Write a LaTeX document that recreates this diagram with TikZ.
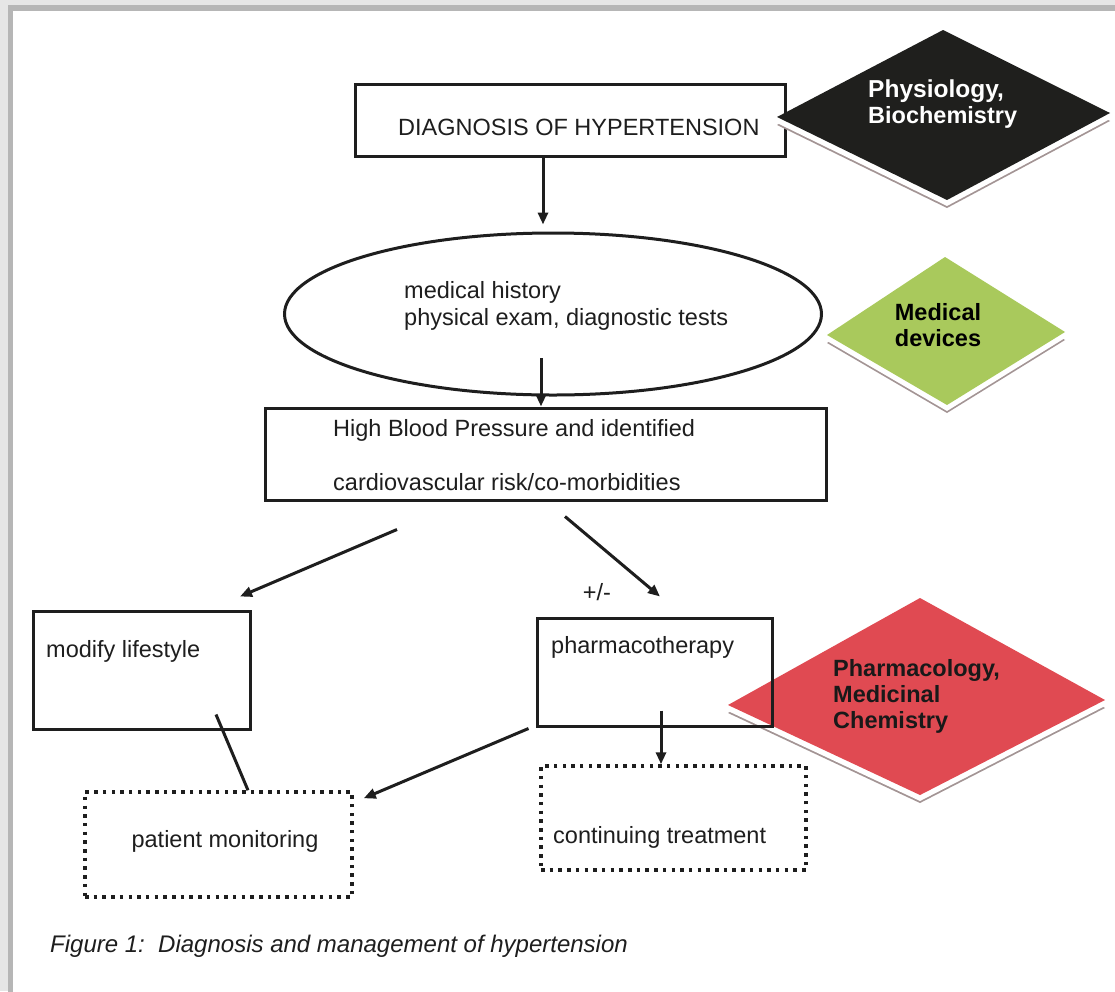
\documentclass[tikz,border=0pt]{standalone}
\usepackage{fontspec}
\setmainfont{Liberation Sans}
\usetikzlibrary{shapes.geometric,arrows.meta}
\definecolor{ink}{HTML}{1E1E1E}
\definecolor{pagegray}{HTML}{E6E6E6}
\definecolor{framegray}{HTML}{B6B6B6}
\definecolor{gemrim}{HTML}{A39494}
\definecolor{gemblack}{HTML}{1F1F1D}
\definecolor{gemgreen}{HTML}{A9C95C}
\definecolor{gemred}{HTML}{E04A52}
% a diamond with a bevelled lower rim: top, left, bottom, right, fill
\newcommand\bevelgem[5]{%
  \begin{scope}[shift={(0,8)}]\fill[gemrim] #1--#2--#3--#4--cycle;\end{scope}
  \begin{scope}[shift={(0,6)}]\fill[white] #1--#2--#3--#4--cycle;\end{scope}
  \fill[#5] #1--#2--#3--#4--cycle;}
\begin{document}
\begin{tikzpicture}[x=1pt,y=-1pt,
  txt/.style={font=\fontsize{23.5}{27}\selectfont, text=ink, inner sep=0pt},
  box/.style={draw=ink, line width=3pt, inner sep=0pt},
  dotbox/.style={draw=ink, line width=3.5pt, dash pattern=on 3.5pt off 5.2pt, inner sep=0pt},
  arr/.style={draw=ink, line width=3pt, -{Triangle[length=12pt,width=10pt]}},
  link/.style={draw=ink, line width=3pt},
  tag/.style={font=\fontsize{23.5}{26}\selectfont\bfseries, inner sep=0pt, align=left},
]
\useasboundingbox (0,0) rectangle (1115,991);
% page and frame
\fill[pagegray] (0,0) rectangle (1115,991);
\filldraw[fill=white, draw=framegray, line width=5.5pt] (10.5,8) rectangle (1140,1010);

% flow chart boxes
\node[box, minimum width=430, minimum height=72] (diag) at (570,120) {};
\node[txt, anchor=west] (diagtxt) at (398,127) {DIAGNOSIS OF HYPERTENSION};

% coloured discipline diamonds
\bevelgem{(943,30)}{(777,117)}{(947,200)}{(1110,113)}{gemblack}
\bevelgem{(945,257)}{(827,335)}{(947,405)}{(1065,332)}{gemgreen}
\bevelgem{(920,598)}{(728,705)}{(920,795)}{(1105,700)}{gemred}
\node[tag, text=white, anchor=west] (physio) at (868,104) {\fontsize{24.5}{26}\selectfont Physiology,\\Biochemistry};
\node[tag, text=black, align=center] (devices) at (938,325) {\fontsize{23.5}{28}\selectfont Medical\\devices};
\node[tag, text=black!90, anchor=west] (pharmaco) at (833,696) {Pharmacology,\\Medicinal\\Chemistry};

\node[ellipse, draw=ink, line width=3pt, minimum width=537, minimum height=162, inner sep=0pt] (hist) at (553,314) {};
\node[txt, anchor=west, align=left] (histtxt) at (404,306) {medical history\\physical exam, diagnostic tests};

\node[box, minimum width=561, minimum height=92] (risk) at (545.5,454) {};
\node[txt, anchor=west, align=left] (risktxt) at (333,455) {High Blood Pressure and identified\\[27pt]cardiovascular risk/co-morbidities};

\node[box, minimum width=217, minimum height=118] (life) at (141.5,670) {};
\node[txt, anchor=west] (lifetxt) at (46,651) {modify lifestyle};

\node[box, minimum width=235, minimum height=108] (pharm) at (654.5,672) {};
\node[txt, anchor=west] (pharmtxt) at (551,647) {pharmacotherapy};

\node[dotbox, minimum width=267, minimum height=105] (monit) at (218.5,844.5) {};
\node[txt] (monittxt) at (225,841) {patient monitoring};

\node[dotbox, minimum width=265, minimum height=104] (cont) at (673.5,818) {};
\node[txt, anchor=west] (conttxt) at (553,837) {continuing treatment};

\node[txt] (plusminus) at (597,592) {+/-};

% connectors
\draw[arr] ([xshift=-27pt]diag.south) -- ([xshift=-10pt,yshift=7pt]hist.north);
\draw[arr] ([xshift=-12pt,yshift=-44pt]hist.center) -- ([xshift=-4.5pt]risk.north);
\draw[arr] ([xshift=-148.5pt,yshift=-28pt]risk.south) -- ([xshift=98.5pt,yshift=13pt]life.north);
\draw[arr] ([xshift=19.5pt,yshift=-15pt]risk.south) -- ([xshift=5.5pt,yshift=20pt]pharm.north);
\draw[link] ([xshift=74.5pt,yshift=16pt]life.south) -- ([xshift=29.5pt]monit.north);
\draw[arr] ([xshift=-7pt,yshift=-1pt]pharm.south west) -- ([xshift=10pt,yshift=-8pt]monit.north east);
\draw[arr] ([xshift=6.5pt,yshift=17pt]pharm.south) -- ([xshift=-12.5pt]cont.north);

% caption
\node[anchor=west, inner sep=0pt, font=\fontsize{24}{28}\selectfont\itshape, text=ink] (caption) at (50,946) {Figure 1:\ \ Diagnosis and management of hypertension};
\end{tikzpicture}
\end{document}
